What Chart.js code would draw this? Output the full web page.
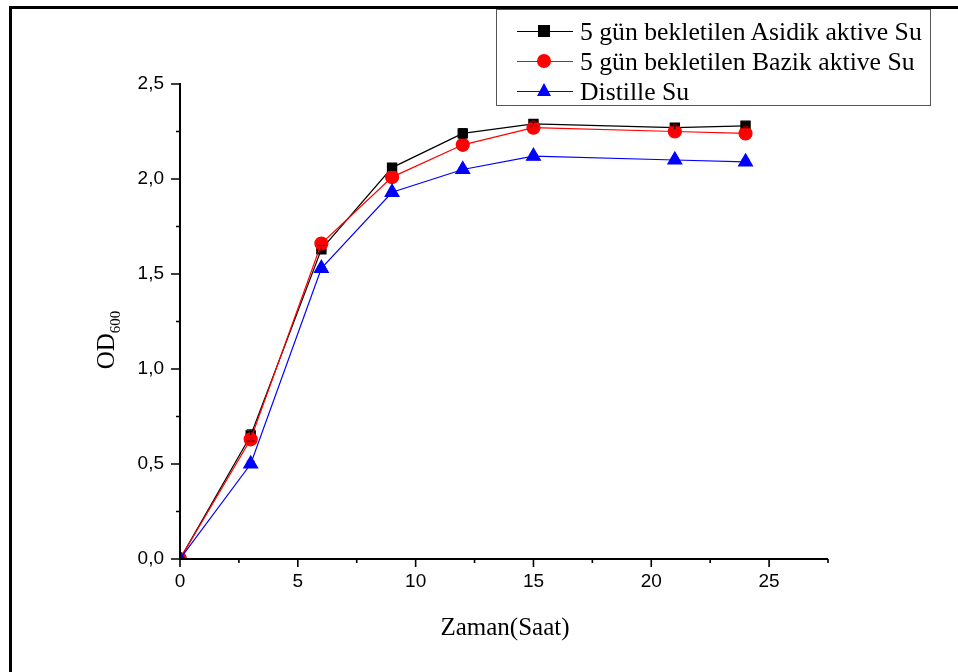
<!DOCTYPE html>
<html>
<head>
<meta charset="utf-8">
<script src="https://cdn.jsdelivr.net/npm/chart.js@4/dist/chart.umd.min.js"></script>
<style>
  html, body { margin: 0; padding: 0; background: #fff; }
  #wrap { position: relative; width: 958px; height: 672px; overflow: hidden; }
  #frame { position: absolute; left: 9px; top: 6px; right: -10px; bottom: -10px;
           border-left: 3px solid #000; border-top: 3px solid #000; }
  #chart { position: absolute; left: 0; top: 0; }
  #legend { position: absolute; left: 496px; top: 9px; width: 435px; height: 97px;
            border: 1.5px solid #555; background: #fff; box-sizing: border-box;
            font-family: "Liberation Serif", "Times New Roman", serif; font-size: 25.7px; color: #000; }
  .row { position: absolute; left: 0; height: 30px; line-height: 30px; white-space: nowrap; }
  .line { position: absolute; left: 20px; top: 14px; width: 56px; height: 1.3px; }
  .mk { position: absolute; }
  .txt { position: absolute; left: 83px; top: 0; }
</style>
</head>
<body>
<div id="wrap">
  <div id="frame"></div>
  <canvas id="chart" width="958" height="672"></canvas>
  <div id="legend"></div>
</div>
<script>
// 数据
const hours = [0, 3, 6, 9, 12, 15, 21, 24];
const asidik = [0, 0.65, 1.63, 2.06, 2.24, 2.29, 2.27, 2.28];
const bazik = [0, 0.63, 1.66, 2.01, 2.18, 2.27, 2.25, 2.24];
const distille = [0, 0.50, 1.53, 1.93, 2.05, 2.12, 2.10, 2.09];
const asidikErr = [0, 0.03, 0.02, 0.015, 0.025, 0.01, 0.01, 0.01];
const bazikErr = [0, 0.02, 0.015, 0.01, 0.015, 0.01, 0.01, 0.01];
const distilleErr = [0, 0.015, 0.01, 0.01, 0.01, 0.01, 0.01, 0.01];

const seriesNames = ['5 gün bekletilen Asidik aktive Su', '5 gün bekletilen Bazik aktive Su', 'Distille Su'];
const xTicks = [0, 5, 10, 15, 20, 25];
const yTicks = [0, 0.5, 1.0, 1.5, 2.0, 2.5];

const toPoints = arr => arr.map((v, i) => ({ x: hours[i], y: v }));
const fmt = v => v.toFixed(1).replace('.', ',');

// 图例
function buildLegend() {
    const legend = document.getElementById('legend');
    const styles = [
        { color: '#000', mk: '<div class="mk" style="left:41px;top:8px;width:12px;height:12px;background:#000"></div>' },
        { color: '#f00', mk: '<div class="mk" style="left:40px;top:7px;width:14px;height:14px;border-radius:50%;background:#f00"></div>' },
        { color: '#00f', mk: '<div class="mk" style="left:40px;top:6px;width:0;height:0;border-left:7px solid transparent;border-right:7px solid transparent;border-bottom:13px solid #00f"></div>' }
    ];
    legend.innerHTML = seriesNames.map((name, i) => `
        <div class="row" style="top:${7 + i * 30}px">
            <div class="line" style="background:${styles[i].color}"></div>
            ${styles[i].mk}
            <span class="txt">${name}</span>
        </div>`).join('');
}
buildLegend();

// 刻度、坐标轴标题、误差线
const decorPlugin = {
    id: 'decor',
    afterDatasetsDraw(chart) {
        const { ctx, scales: { x, y } } = chart;
        ctx.save();
        // 误差线
        const errs = [asidikErr, bazikErr, distilleErr];
        const cols = ['#000', '#f00', '#00f'];
        errs.forEach((err, d) => {
            ctx.strokeStyle = cols[d];
            ctx.lineWidth = 1;
            err.forEach((e, i) => {
                if (!e) return;
                const val = chart.data.datasets[d].data[i].y;
                const px = x.getPixelForValue(hours[i]);
                const top = y.getPixelForValue(val + e);
                const bot = y.getPixelForValue(val - e);
                ctx.beginPath();
                ctx.moveTo(px, top); ctx.lineTo(px, bot);
                ctx.moveTo(px - 4, top); ctx.lineTo(px + 4, top);
                ctx.moveTo(px - 4, bot); ctx.lineTo(px + 4, bot);
                ctx.stroke();
            });
        });
        ctx.restore();
    },
    afterDraw(chart) {
        const { ctx, scales: { x, y } } = chart;
        const left = x.getPixelForValue(0);
        const bottom = y.getPixelForValue(0);
        ctx.save();
        ctx.strokeStyle = '#000';
        ctx.lineWidth = 2;
        ctx.beginPath();
        ctx.moveTo(left, y.getPixelForValue(2.5) - 1);
        ctx.lineTo(left, bottom);
        ctx.lineTo(x.getPixelForValue(27.5), bottom);
        ctx.stroke();

        ctx.lineWidth = 1.6;
        ctx.beginPath();
        for (let v = 0; v <= 27.5; v += 2.5) {
            const px = x.getPixelForValue(v);
            const len = v % 5 === 0 ? 8 : 4;
            ctx.moveTo(px, bottom); ctx.lineTo(px, bottom + len);
        }
        for (let v = 0; v <= 2.5001; v += 0.25) {
            const py = y.getPixelForValue(v);
            const len = Math.round(v * 100) % 50 === 0 ? 9 : 4;
            ctx.moveTo(left, py); ctx.lineTo(left - len, py);
        }
        ctx.stroke();

        ctx.fillStyle = '#000';
        ctx.font = '19px "Liberation Sans", Arial, sans-serif';
        ctx.textAlign = 'center';
        ctx.textBaseline = 'top';
        xTicks.forEach(v => ctx.fillText(String(v), x.getPixelForValue(v), bottom + 13));
        ctx.textAlign = 'right';
        ctx.textBaseline = 'middle';
        yTicks.forEach(v => ctx.fillText(fmt(v), left - 16, y.getPixelForValue(v)));

        // 坐标轴标题
        ctx.font = '25px "Liberation Serif", "Times New Roman", serif';
        ctx.textAlign = 'center';
        ctx.textBaseline = 'middle';
        ctx.fillText('Zaman(Saat)', 505, 628);

        ctx.translate(105, 340);
        ctx.rotate(-Math.PI / 2);
        ctx.textAlign = 'left';
        ctx.textBaseline = 'alphabetic';
        const odW = ctx.measureText('OD').width;
        ctx.font = '15px "Liberation Serif", "Times New Roman", serif';
        const subW = ctx.measureText('600').width;
        const start = -(odW + subW) / 2;
        ctx.font = '25px "Liberation Serif", "Times New Roman", serif';
        ctx.fillText('OD', start, 9);
        ctx.font = '15px "Liberation Serif", "Times New Roman", serif';
        ctx.fillText('600', start + odW, 15);
        ctx.restore();
    }
};

new Chart(document.getElementById('chart'), {
    type: 'line',
    data: {
        datasets: [
            { label: seriesNames[0], data: toPoints(asidik), borderColor: '#000', backgroundColor: '#000',
              borderWidth: 1.2, pointStyle: 'rect', pointRadius: 6.5, order: 3 },
            { label: seriesNames[1], data: toPoints(bazik), borderColor: '#f00', backgroundColor: '#f00',
              borderWidth: 1.2, pointStyle: 'circle', pointRadius: 6.5, order: 2 },
            { label: seriesNames[2], data: toPoints(distille), borderColor: '#00f', backgroundColor: '#00f',
              borderWidth: 1.2, pointStyle: 'triangle', pointRadius: 8, order: 1 }
        ]
    },
    options: {
        responsive: false,
        animation: false,
        events: [],
        layout: { padding: { left: 120, top: 84, right: 130, bottom: 73 } },
        plugins: { legend: { display: false }, tooltip: { enabled: false } },
        elements: { point: { borderWidth: 0 }, line: { tension: 0 } },
        scales: {
            x: {
                type: 'linear', min: 0, max: 27.5,
                grid: { display: false }, border: { display: false },
                ticks: { display: false },
                afterFit: s => { s.height = 40; }
            },
            y: {
                min: 0, max: 2.5,
                grid: { display: false }, border: { display: false },
                ticks: { display: false },
                afterFit: s => { s.width = 60; }
            }
        }
    },
    plugins: [decorPlugin]
});
</script>
</body>
</html>
